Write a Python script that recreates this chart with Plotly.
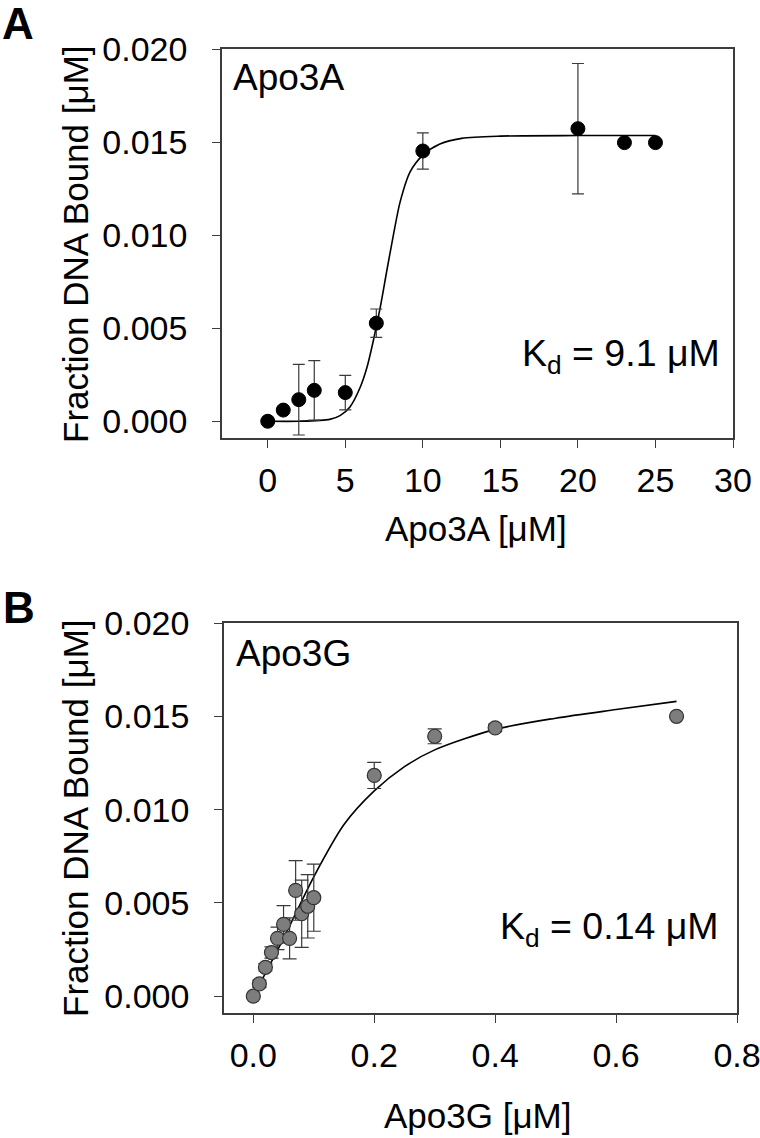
import plotly.graph_objects as go

W, H = 760, 1138
OFF = 0  # body margin is removed by post_script below
FONT = "Liberation Sans, Arial, sans-serif"

# ---------------- Panel A data (Apo3A) ----------------
a_x = [0, 1, 2, 3, 5, 7, 10, 20, 23, 25]
a_y = [0.0000, 0.0006, 0.00116, 0.00166, 0.00154, 0.00527, 0.01452, 0.01572, 0.01497, 0.01497]
a_err = [0, 0, 0.0019, 0.0016, 0.00093, 0.00076, 0.00097, 0.0035, 0, 0]

# fitted curve
a_fit_x = [0, 2, 4, 4.66, 5.3, 5.95, 6.4, 6.8, 7.25, 7.68, 8.1, 8.54, 9.18, 10.0, 11.1, 12.5, 15, 20, 25]
a_fit_y = [0.0, 0.0, 0.0001, 0.0003, 0.00077, 0.0018, 0.0029, 0.0043, 0.0061, 0.0081, 0.0100,
           0.0118, 0.0134, 0.0143, 0.0149, 0.0152, 0.01532, 0.01535, 0.01535]

# ---------------- Panel B data (Apo3G) ----------------
b_x = [0, 0.01, 0.02, 0.03, 0.04, 0.05, 0.06, 0.07, 0.08, 0.09, 0.10, 0.2, 0.3, 0.4, 0.7]
b_y = [0.0, 0.00066, 0.00155, 0.00234, 0.0031, 0.00385, 0.0031, 0.00567, 0.00442, 0.00482,
       0.00528, 0.01183, 0.01393, 0.01438, 0.0150]
b_err = [0, 0.0002, 0.0002, 0.0003, 0.0006, 0.0010, 0.0011, 0.0016, 0.0018, 0.0017, 0.0018,
         0.0007, 0.0004, 0.0002, 0]

b_fit_x = [0.0, 0.05, 0.1, 0.15, 0.2, 0.25, 0.3, 0.4, 0.5, 0.6, 0.7]
b_fit_y = [0.0, 0.0031, 0.0064, 0.0092, 0.0110, 0.0123, 0.0132, 0.0143, 0.0149, 0.01536, 0.0158]

y_ticks = [0.000, 0.005, 0.010, 0.015, 0.020]
y_labels = ["0.000", "0.005", "0.010", "0.015", "0.020"]
a_xticks = [0, 5, 10, 15, 20, 25, 30]
b_xticks = [0.0, 0.2, 0.4, 0.6, 0.8]
b_xlabels = ["0.0", "0.2", "0.4", "0.6", "0.8"]


def px(x):
    return (x - OFF) / W


def py(y):
    return 1 - (y - OFF) / H


fig = go.Figure()

ecol = "#3a3a3a"
fig.add_trace(go.Scatter(x=a_fit_x, y=a_fit_y, mode="lines", line=dict(color="black", width=1.6, shape="spline", smoothing=0.8),
                         xaxis="x", yaxis="y", hoverinfo="skip"))
fig.add_trace(go.Scatter(x=a_x, y=a_y, mode="markers",
                         marker=dict(color="black", size=14, line=dict(color="black", width=1)),
                         error_y=dict(type="data", array=a_err, visible=True, color=ecol, thickness=1.2, width=6),
                         xaxis="x", yaxis="y"))

fig.add_trace(go.Scatter(x=b_fit_x, y=b_fit_y, mode="lines", line=dict(color="black", width=1.6, shape="spline", smoothing=0.8),
                         xaxis="x2", yaxis="y2", hoverinfo="skip"))
fig.add_trace(go.Scatter(x=b_x, y=b_y, mode="markers",
                         marker=dict(color="#7d7d7d", size=14, line=dict(color="#333333", width=1.2)),
                         error_y=dict(type="data", array=b_err, visible=True, color=ecol, thickness=1.2, width=7),
                         xaxis="x2", yaxis="y2"))

axcommon = dict(showline=True, linecolor="#3c3c3c", linewidth=1.5, mirror=True, ticks="outside",
                ticklen=8, tickwidth=1.3, tickcolor="#3c3c3c", showgrid=False, zeroline=False,
                automargin=False, ticklabeloverflow="allow",
                tickfont=dict(family=FONT, size=34, color="black"))

fig.update_layout(
    template="none",
    width=W, height=H, margin=dict(l=0, r=0, t=0, b=0),
    paper_bgcolor="white", plot_bgcolor="white", showlegend=False,
    xaxis=dict(domain=[px(222), px(733)], range=[-2.95, 30], tickvals=a_xticks, anchor="y",
               ticklabelstandoff=3, **axcommon),
    yaxis=dict(domain=[py(438), py(49)], range=[-0.0009, 0.0200], tickvals=y_ticks, ticktext=y_labels,
               anchor="x", ticklabelstandoff=18, **axcommon),
    xaxis2=dict(domain=[px(224), px(737)], range=[-0.0485, 0.8], tickvals=b_xticks, ticktext=b_xlabels,
                anchor="y2", ticklabelstandoff=3, **axcommon),
    yaxis2=dict(domain=[py(1013), py(623)], range=[-0.0009, 0.0200], tickvals=y_ticks, ticktext=y_labels,
                anchor="x2", ticklabelstandoff=18, **axcommon),
)

ann = []


def add_text(text, x, y, size, xanchor="left", yanchor="middle", bold=False, angle=0):
    ann.append(dict(text=("<b>%s</b>" % text) if bold else text, x=px(x), y=py(y), xref="paper", yref="paper",
                    xanchor=xanchor, yanchor=yanchor, showarrow=False, textangle=angle,
                    font=dict(family=FONT, size=size, color="black")))


add_text("A", 0, 23, 44, bold=True)
add_text("B", 1, 607, 44, bold=True)
add_text("Apo3A", 231, 77, 37)
add_text("Apo3G", 234, 653, 37)
add_text("K<sub>d</sub> = 9.1 μM", 722, 356, 37.5, xanchor="right")
add_text("K<sub>d</sub> = 0.14 μM", 721, 929, 37.5, xanchor="right")
add_text("Fraction DNA Bound [μM]", 75, 244, 35, xanchor="center", angle=-90)
add_text("Fraction DNA Bound [μM]", 75, 818, 35, xanchor="center", angle=-90)
add_text("Apo3A [μM]", 476, 528, 35, xanchor="center")
add_text("Apo3G [μM]", 478, 1115, 35, xanchor="center")

fig.update_layout(annotations=ann)
fig.write_html("out.html", config={"displayModeBar": False},
               post_script="document.body.style.margin='0px';")
